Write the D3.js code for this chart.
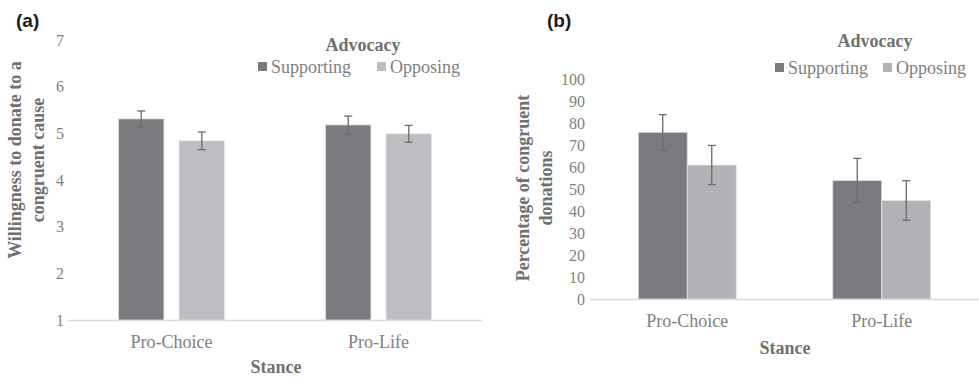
<!DOCTYPE html>
<html>
<head>
<meta charset="utf-8">
<script src="https://cdn.jsdelivr.net/npm/d3@7"></script>
<style>
  html, body { margin: 0; padding: 0; background: #fff; }
  svg { display: block; }
  svg text { font-family: "Liberation Serif", "Times New Roman", serif; }
  svg text.tag { font-family: "Liberation Sans", Arial, sans-serif; }
</style>
</head>
<body>
<svg id="chart" width="979" height="378"></svg>
<script>
// data
const stances = ['Pro-Choice', 'Pro-Life'];
const advocacy = ['Supporting', 'Opposing'];

const willingMean = [[5.31, 4.84], [5.18, 4.99]];
const willingErr  = [[0.17, 0.19], [0.19, 0.18]];
const willingTicks = [1, 2, 3, 4, 5, 6, 7];

const donateMean = [[75.8, 60.9], [53.9, 44.8]];
const donateErr  = [[8.0, 8.9], [10.0, 9.0]];
const donateTicks = [0, 10, 20, 30, 40, 50, 60, 70, 80, 90, 100];

const svg = d3.select('#chart');

// one panel drawer, both panels share layout logic
function drawPanel(cfg) {
  const g = svg.append('g');

  const x0 = d3.scaleBand().domain(stances).range([cfg.left, cfg.right]);
  const x1 = d3.scaleBand().domain(advocacy)
    .range([0, cfg.groupW]).paddingInner(cfg.barGap);
  const y = d3.scaleLinear().domain(cfg.domain).range([cfg.bottom, cfg.top]);

  // baseline
  g.append('line')
    .attr('x1', cfg.left).attr('x2', cfg.right)
    .attr('y1', cfg.bottom + 0.5).attr('y2', cfg.bottom + 0.5)
    .attr('stroke', '#d9d9d9').attr('stroke-width', 1.5);

  // y ticks
  const yAxis = d3.axisLeft(y).tickValues(cfg.ticks).tickFormat(d3.format('d'))
    .tickSize(0).tickPadding(0);
  const ya = g.append('g').attr('transform', `translate(${cfg.tickX},0)`).call(yAxis);
  ya.attr('font-family', null);
  ya.select('.domain').remove();
  ya.selectAll('text').attr('font-size', 16).attr('fill', '#808080');

  // x labels
  const xAxis = d3.axisBottom(x0).tickSize(0).tickPadding(0);
  const xa = g.append('g').attr('transform', `translate(0,${cfg.catY})`).call(xAxis);
  xa.attr('font-family', null);
  xa.select('.domain').remove();
  xa.selectAll('text').attr('font-size', 18).attr('fill', '#808080');

  // bars
  stances.forEach((s, i) => {
    const gx = x0(s) + (x0.bandwidth() - cfg.groupW) / 2;
    advocacy.forEach((a, j) => {
      const v = cfg.mean[i][j], e = cfg.err[i][j];
      const bx = gx + x1(a);
      g.append('rect')
        .attr('x', bx).attr('y', y(v))
        .attr('width', x1.bandwidth()).attr('height', y(cfg.domain[0]) - y(v))
        .attr('fill', cfg.colors[j])
        .attr('stroke', '#e4e4e6').attr('stroke-width', 0.8);
      const cx = bx + x1.bandwidth() / 2;
      g.append('line')
        .attr('x1', cx).attr('x2', cx)
        .attr('y1', y(v + e)).attr('y2', y(v - e))
        .attr('stroke', '#6b6b6b').attr('stroke-width', 1.3);
      [v + e, v - e].forEach(t => {
        g.append('line')
          .attr('x1', cx - 4).attr('x2', cx + 4)
          .attr('y1', y(t)).attr('y2', y(t))
          .attr('stroke', '#6b6b6b').attr('stroke-width', 1.3);
      });
    });
  });

  // legend
  g.append('text')
    .attr('x', cfg.legTitleX).attr('y', cfg.legTitleY)
    .attr('text-anchor', 'middle').attr('font-weight', 'bold')
    .attr('font-size', 18).attr('fill', '#707070')
    .text('Advocacy');
  advocacy.forEach((a, j) => {
    const lx = cfg.legX[j];
    g.append('rect')
      .attr('x', lx).attr('y', cfg.legY - 11)
      .attr('width', 9).attr('height', 9)
      .attr('fill', cfg.colors[j]);
    g.append('text')
      .attr('x', lx + 13).attr('y', cfg.legY)
      .attr('font-size', 18).attr('fill', '#808080')
      .text(a);
  });

  // axis titles
  g.append('text')
    .attr('x', cfg.stanceX).attr('y', cfg.stanceY)
    .attr('text-anchor', 'middle').attr('font-weight', 'bold')
    .attr('font-size', 18).attr('fill', '#707070')
    .text('Stance');

  const yt = g.append('text')
    .attr('transform', `translate(${cfg.yTitleX},${cfg.yTitleY}) rotate(-90)`)
    .attr('text-anchor', 'middle').attr('font-weight', 'bold')
    .attr('font-size', 18).attr('fill', '#707070');
  cfg.yTitle.forEach((line, k) => {
    yt.append('tspan').attr('x', 0).attr('dy', k === 0 ? 0 : 23).text(line);
  });

  // panel tag
  svg.append('text').attr('class', 'tag')
    .attr('x', cfg.tagX).attr('y', 27)
    .attr('font-weight', 'bold').attr('font-size', 19).attr('fill', '#1a1a1a')
    .text(cfg.tag);
}

drawPanel({
  tag: '(a)', tagX: 16,
  left: 68, right: 482, top: 40, bottom: 320,
  domain: [1, 7], ticks: willingTicks, tickX: 64,
  mean: willingMean, err: willingErr,
  groupW: 106, barGap: 0.25,
  colors: ['#7a7b7f', '#bdbec2'],
  catY: 335,
  legTitleX: 363, legTitleY: 51, legX: [258, 377], legY: 73,
  stanceX: 276, stanceY: 373,
  yTitleX: 21, yTitleY: 160,
  yTitle: ['Willingness to donate to a', 'congruent cause']
});

drawPanel({
  tag: '(b)', tagX: 547,
  left: 590, right: 979, top: 79, bottom: 299,
  domain: [0, 100], ticks: donateTicks, tickX: 585,
  mean: donateMean, err: donateErr,
  groupW: 98, barGap: 0,
  colors: ['#7a7b7f', '#b1b2b6'],
  catY: 314,
  legTitleX: 875, legTitleY: 47, legX: [775, 883], legY: 74,
  stanceX: 785, stanceY: 354,
  yTitleX: 529, yTitleY: 188,
  yTitle: ['Percentage of congruent', 'donations']
});
</script>
</body>
</html>
